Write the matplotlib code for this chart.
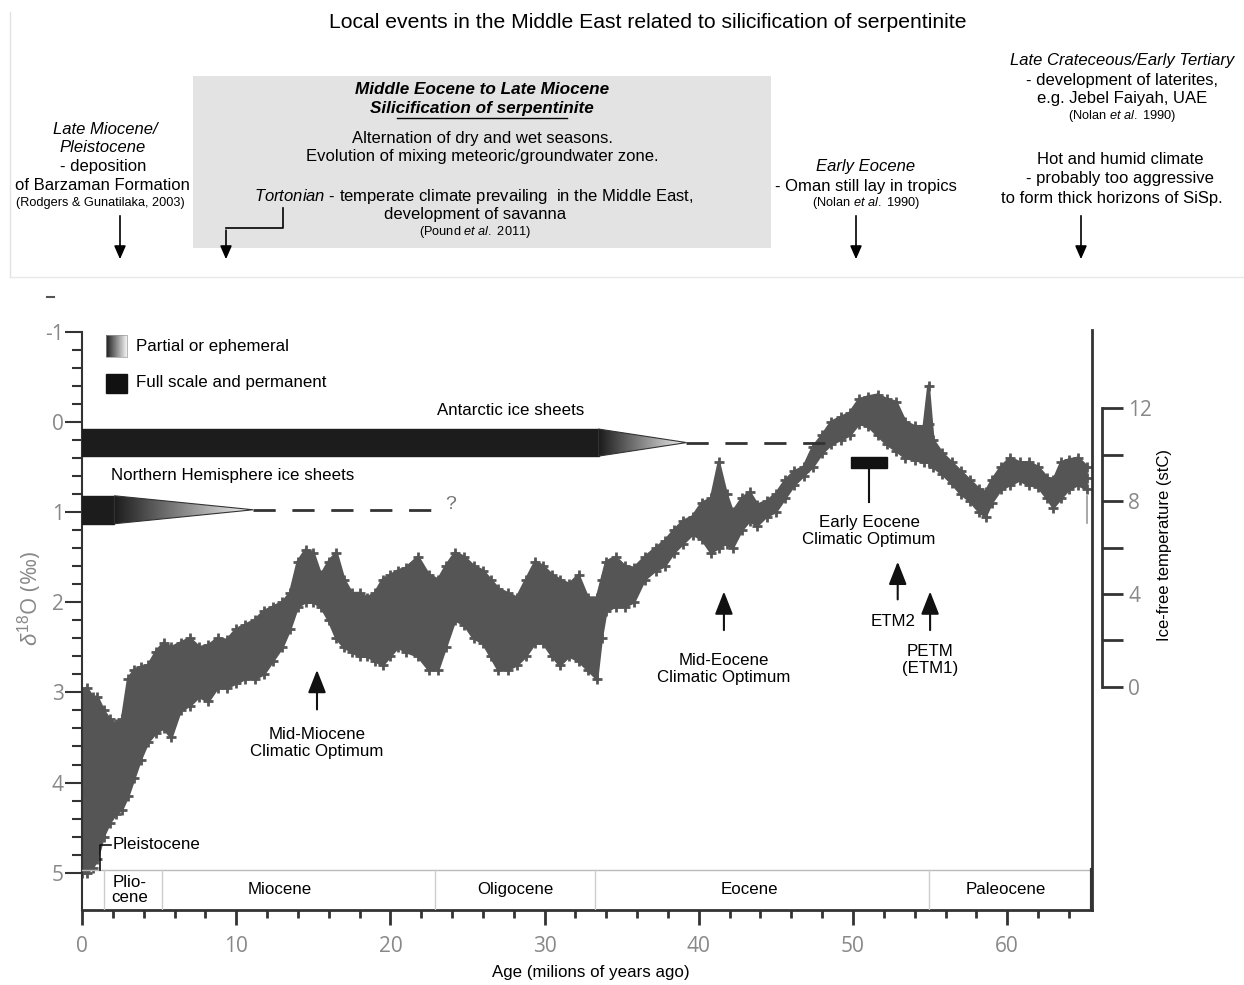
import matplotlib.pyplot as plt
import numpy as np
from matplotlib.patches import Polygon, Rectangle
from matplotlib.colors import LinearSegmentedColormap

plt.rcParams['font.family'] = ['Liberation Sans', 'DejaVu Sans']
plt.rcParams['mathtext.fontset'] = 'custom'
plt.rcParams['mathtext.rm'] = 'Liberation Sans'
plt.rcParams['mathtext.it'] = 'Liberation Sans:italic'
plt.rcParams['mathtext.bf'] = 'Liberation Sans:bold'

# d18O cloud: age (Ma), upper and lower edge (permil)
age = [0.0, 0.3, 0.7, 1.0, 1.4, 1.8, 2.2, 2.6, 3.0, 3.4, 3.8, 4.3, 4.8, 5.3, 5.8,
       6.4, 7.0, 7.6, 8.2, 8.8, 9.4, 10.0, 10.6, 11.2, 11.8, 12.4, 13.0, 13.5,
       14.0, 14.5, 15.0, 15.5, 16.0, 16.5, 17.0, 17.5, 18.0, 18.5, 19.0, 19.5,
       20.0, 20.5, 21.0, 21.8, 22.5, 23.1, 23.6, 24.2, 24.8, 25.4, 26.0, 26.5,
       27.0, 27.6, 28.2, 28.8, 29.4, 29.9, 30.5, 31.0, 31.6, 32.2, 32.8, 33.4,
       33.7, 34.0, 34.6, 35.2, 35.8, 36.5, 37.2, 37.8, 38.4, 39.0, 39.6, 40.2,
       40.8, 41.3, 41.8, 42.2, 42.8, 43.3, 43.8, 44.4, 45.0, 45.6, 46.2, 46.8,
       47.4, 48.0, 48.6, 49.2, 49.8, 50.4, 51.0, 51.6, 52.2, 52.8, 53.4, 54.0,
       54.6, 54.9, 55.2, 55.8, 56.4, 57.0, 57.6, 58.2, 58.6, 59.0, 59.6, 60.2,
       60.8, 61.4, 62.0, 62.6, 63.0, 63.5, 64.0, 64.6, 65.2]
d18o_top = [3.0, 2.95, 3.05, 3.05, 3.2, 3.3, 3.35, 3.3, 2.85, 2.75, 2.72, 2.7, 2.55,
            2.45, 2.5, 2.45, 2.4, 2.5, 2.48, 2.4, 2.42, 2.3, 2.25, 2.2, 2.1, 2.05,
            2.0, 1.9, 1.55, 1.42, 1.45, 1.7, 1.55, 1.45, 1.75, 1.9, 1.9, 1.95, 1.9,
            1.75, 1.7, 1.65, 1.62, 1.5, 1.7, 1.75, 1.6, 1.45, 1.5, 1.6, 1.65, 1.75,
            1.85, 1.9, 1.95, 1.75, 1.55, 1.6, 1.7, 1.75, 1.8, 1.7, 1.95, 1.95, 1.75,
            1.55, 1.5, 1.6, 1.62, 1.5, 1.4, 1.32, 1.2, 1.1, 1.05, 0.9, 0.85, 0.45,
            0.8, 1.0, 0.85, 0.78, 0.92, 0.88, 0.8, 0.65, 0.55, 0.5, 0.28, 0.15, 0.0,
            -0.05, -0.1, -0.25, -0.28, -0.3, -0.25, -0.22, 0.0, 0.05, 0.05, -0.4,
            0.2, 0.35, 0.45, 0.55, 0.65, 0.75, 0.78, 0.65, 0.5, 0.4, 0.45, 0.45,
            0.5, 0.62, 0.65, 0.45, 0.42, 0.4, 0.5]
d18o_bot = [5.0, 5.0, 4.95, 4.85, 4.6, 4.45, 4.35, 4.3, 4.15, 3.95, 3.75, 3.55, 3.45,
            3.4, 3.5, 3.2, 3.15, 3.05, 3.1, 2.95, 2.95, 2.9, 2.85, 2.85, 2.8, 2.65,
            2.5, 2.3, 2.05, 2.0, 2.0, 2.05, 2.2, 2.4, 2.5, 2.55, 2.6, 2.6, 2.65,
            2.7, 2.6, 2.5, 2.55, 2.6, 2.75, 2.75, 2.5, 2.2, 2.25, 2.4, 2.45, 2.6,
            2.75, 2.75, 2.7, 2.6, 2.45, 2.45, 2.6, 2.7, 2.6, 2.65, 2.75, 2.85, 2.4,
            2.1, 2.05, 2.05, 2.0, 1.75, 1.65, 1.6, 1.45, 1.35, 1.25, 1.3, 1.45, 1.4,
            1.35, 1.4, 1.2, 1.1, 1.15, 1.05, 1.0, 0.85, 0.7, 0.6, 0.5, 0.35, 0.25,
            0.2, 0.15, 0.02, 0.05, 0.15, 0.25, 0.32, 0.4, 0.42, 0.45, 0.45, 0.5,
            0.58, 0.68, 0.8, 0.88, 1.0, 1.05, 0.9, 0.75, 0.7, 0.65, 0.7, 0.72, 0.85,
            0.95, 0.85, 0.75, 0.7, 0.75]

# geological epochs (boundaries in Ma) and where their names sit
epoch_edges = [0, 1.4, 5.2, 22.9, 33.3, 54.9, 65.5]
epoch_names = ['Plio-\ncene', 'Miocene', 'Oligocene', 'Eocene', 'Paleocene']
epoch_label_age = [3.1, 12.8, 28.1, 43.3, 59.9]

age_ticks = [0, 10, 20, 30, 40, 50, 60]
d18o_ticks = [-1, 0, 1, 2, 3, 4, 5]
temp_ticks = [0, 4, 8, 12]

W, H = 1244, 985
fig = plt.figure(figsize=(12.44, 9.85), dpi=100)
FS = 12.2   # chart labels
TS = 12     # top panel text
CS = 9.2    # citations


def rect(x0, y0, x1, y1):
    return [x0 / W, 1 - y1 / H, (x1 - x0) / W, (y1 - y0) / H]


grad_cmap = LinearSegmentedColormap.from_list('ice', ['#1c1c1c', '#f4f4f4'])
grad = np.linspace(0, 1, 256).reshape(1, -1)


def gradient_triangle(a, x0, x1, ymid, half, z=3):
    poly = Polygon([(x0, ymid - half), (x1, ymid), (x0, ymid + half)],
                   closed=True, facecolor='none', edgecolor='#333', lw=0.8, zorder=z + 1)
    a.add_patch(poly)
    im = a.imshow(grad, extent=(x0, x1, ymid + half, ymid - half), cmap=grad_cmap,
                  aspect='auto', zorder=z, interpolation='bilinear')
    im.set_clip_path(poly)


# ---------------- main chart ----------------
ax = fig.add_axes(rect(82, 300, 1092, 910))
ax.patch.set_visible(False)

mid = [(t + b) / 2 for t, b in zip(d18o_top, d18o_bot)]
ax.fill_between(age, d18o_top, d18o_bot, color='#555555', lw=0, zorder=2)
ax.plot(age, d18o_top, color='#555555', lw=2, zorder=2)
ax.plot(age, d18o_bot, color='#555555', lw=2, zorder=2)
for series in (d18o_top, d18o_bot, mid):
    ax.plot(age, series, '+', color='#555555', ms=7, mew=2, zorder=2)

# Antarctic ice sheets
ax.add_patch(Rectangle((0, 0.08), 33.5, 0.30, color='#1c1c1c', zorder=3))
gradient_triangle(ax, 33.5, 39.2, 0.23, 0.15)
ax.plot([39.2, 48.4], [0.23, 0.23], color='#333', lw=2, dashes=(8, 6), zorder=3)
ax.text(27.8, -0.13, 'Antarctic ice sheets', ha='center', va='center', fontsize=FS)

# Northern Hemisphere ice sheets
ax.add_patch(Rectangle((0, 0.82), 2.1, 0.31, color='#1c1c1c', zorder=3))
gradient_triangle(ax, 2.1, 11.1, 0.975, 0.155)
ax.plot([11.1, 22.9], [0.975, 0.975], color='#333', lw=2, dashes=(8, 6), zorder=3)
ax.text(23.9, 0.92, '?', ha='center', va='center', fontsize=14, color='#777')
ax.text(1.85, 0.6, 'Northern Hemisphere ice sheets', ha='left', va='center', fontsize=FS)

# Early Eocene Climatic Optimum
ax.add_patch(Rectangle((49.87, 0.39), 2.33, 0.12, color='#111', zorder=3))
ax.plot([51.04, 51.04], [0.51, 0.89], color='#111', lw=1.5, zorder=3)
ax.text(51.04, 1.21, 'Early Eocene\nClimatic Optimum', ha='center', va='center',
        fontsize=FS, linespacing=1.2)

# event arrows
arrow_kw = dict(arrowstyle='-|>,head_length=1.4,head_width=0.55', color='#111', lw=1.5)
for x, y0, y1, lab, ly in [(15.24, 3.22, 2.72, 'Mid-Miocene\nClimatic Optimum', 3.56),
                           (41.63, 2.34, 1.85, 'Mid-Eocene\nClimatic Optimum', 2.74),
                           (52.9, 2.0, 1.52, 'ETM2', None),
                           (55.0, 2.34, 1.85, 'PETM\n(ETM1)', 2.64)]:
    ax.annotate('', xy=(x, y1), xytext=(x, y0), arrowprops=arrow_kw)
    if ly is not None:
        ax.text(x, ly, lab, ha='center', va='center', fontsize=FS, linespacing=1.2)
ax.text(52.6, 2.21, 'ETM2', ha='center', va='center', fontsize=FS)

# epoch bar
bar_top = 4.97
ax.plot([0, 65.5], [bar_top, bar_top], color='#bbb', lw=1, zorder=4)
for e in epoch_edges[1:-1]:
    ax.plot([e, e], [bar_top, 5.413], color='#ccc', lw=1, zorder=4)
ax.plot([65.5, 65.5], [bar_top, 5.413], color='#333', lw=3, zorder=4)
for xc, name in zip(epoch_label_age, epoch_names):
    ax.text(xc, 5.19, name, ha='center', va='center', fontsize=FS, linespacing=1.05)
ax.plot([1.9, 1.17, 1.17], [4.69, 4.69, bar_top], color='#111', lw=1.2, zorder=4)
ax.text(2.0, 4.69, 'Pleistocene', ha='left', va='center', fontsize=FS)
ax.plot([65.2, 65.2], [0.82, 1.12], color='#999', lw=1.2, zorder=4)

# axes styling
ax.set_xlim(0, 65.5)
ax.set_ylim(5.413, -1.351)
ax.spines['top'].set_visible(False)
for s in ['left', 'bottom', 'right']:
    ax.spines[s].set_color('#333')
ax.spines['left'].set_linewidth(1.5)
ax.spines['left'].set_bounds(-1, 5.413)
ax.spines['bottom'].set_linewidth(2)
ax.spines['right'].set_linewidth(2)
ax.spines['right'].set_bounds(-1.02, 5.413)

ax.set_xticks(age_ticks, labels=[str(t) for t in age_ticks], fontfamily='Open Sans')
ax.set_xticks(np.arange(0, 65, 2), minor=True)
ax.set_yticks(d18o_ticks, labels=['-1', '0', '1', '2', '3', '4', '5'], fontfamily='Open Sans')
ax.set_yticks(np.arange(-1, 5.01, 0.2), minor=True)
ax.tick_params(axis='x', which='major', direction='out', length=11, width=2, color='#333',
               labelsize=15, labelcolor='#888', pad=8)
ax.tick_params(axis='x', which='minor', direction='out', length=6, width=2, color='#333')
ax.tick_params(axis='y', which='major', direction='out', length=12, width=1.5, color='#333',
               labelsize=15, labelcolor='#888', pad=1)
ax.tick_params(axis='y', which='minor', direction='out', length=7, width=1.5, color='#333')
ax.tick_params(right=False, which='both')

# temperature axis
ax2 = fig.add_axes(rect(1000, 408.3, 1101.7, 686.7))
ax2.patch.set_visible(False)
ax2.set_ylim(0, 12)
for s in ['left', 'top', 'bottom']:
    ax2.spines[s].set_visible(False)
ax2.spines['right'].set_color('#333')
ax2.spines['right'].set_linewidth(2)
ax2.set_xticks([])
ax2.yaxis.tick_right()
ax2.set_yticks(temp_ticks, labels=[str(t) for t in temp_ticks], fontfamily='Open Sans')
ax2.set_yticks([2, 6, 10], minor=True)
ax2.tick_params(axis='y', which='both', direction='out', length=15, width=2, color='#333',
                labelsize=15, labelcolor='#888', pad=4)

# ---------------- overlay (text panel, labels) ----------------
ov = fig.add_axes([0, 0, 1, 1])
ov.set_xlim(0, W)
ov.set_ylim(H, 0)
ov.axis('off')
ov.patch.set_visible(False)

ov.plot([10, 10], [12, 277], color='#e2e2e2', lw=1)
ov.plot([10, W], [277, 277], color='#e8e8e8', lw=1)
ov.plot([47, 54], [297, 297], color='#555', lw=1.5)

ov.text(648, 22, 'Local events in the Middle East related to silicification of serpentinite',
        ha='center', va='center', fontsize=15.2)

ov.add_patch(Rectangle((193, 76), 578, 172, color='#e3e3e3', lw=0, zorder=0))
ov.text(482, 89, 'Middle Eocene to Late Miocene', ha='center', va='center',
        fontsize=12.3, fontweight='bold', style='italic')
ov.text(482, 108, 'Silicification of serpentinite', ha='center', va='center',
        fontsize=12.3, fontweight='bold', style='italic')
ov.plot([397, 567], [117.5, 117.5], color='k', lw=1)
ov.text(482, 138, 'Alternation of dry and wet seasons.', ha='center', va='center', fontsize=TS)
ov.text(482, 157, 'Evolution of mixing meteoric/groundwater zone.', ha='center', va='center',
        fontsize=TS)
ov.text(474, 197, r'$\it{Tortonian}$ - temperate climate prevailing  in the Middle East,',
        ha='center', va='center', fontsize=TS)
ov.text(475, 215, 'development of savanna', ha='center', va='center', fontsize=TS)
ov.text(475, 232, r'(Pound $\it{et\ al.}$ 2011)', ha='center', va='center', fontsize=CS)

ov.text(105, 129, 'Late Miocene/', ha='center', va='center', fontsize=TS, style='italic')
ov.text(103, 148, 'Pleistocene', ha='center', va='center', fontsize=TS, style='italic')
ov.text(103, 167, '- deposition', ha='center', va='center', fontsize=TS)
ov.text(102, 186, 'of Barzaman Formation', ha='center', va='center', fontsize=TS)
ov.text(100, 203, '(Rodgers & Gunatilaka, 2003)', ha='center', va='center', fontsize=CS)

ov.text(866, 167, 'Early Eocene', ha='center', va='center', fontsize=TS, style='italic')
ov.text(866, 186, '- Oman still lay in tropics', ha='center', va='center', fontsize=TS)
ov.text(866, 203, r'(Nolan $\it{et\ al.}$ 1990)', ha='center', va='center', fontsize=CS)

ov.text(1122, 61, 'Late Crateceous/Early Tertiary', ha='center', va='center', fontsize=TS,
        style='italic')
ov.text(1122, 80, '- development of laterites,', ha='center', va='center', fontsize=TS)
ov.text(1122, 99, 'e.g. Jebel Faiyah, UAE', ha='center', va='center', fontsize=TS)
ov.text(1122, 116, r'(Nolan $\it{et\ al.}$ 1990)', ha='center', va='center', fontsize=CS)
ov.text(1120, 160, 'Hot and humid climate', ha='center', va='center', fontsize=TS)
ov.text(1120, 179, '- probably too aggressive', ha='center', va='center', fontsize=TS)
ov.text(1112, 198, 'to form thick horizons of SiSp.', ha='center', va='center', fontsize=TS)

down_kw = dict(arrowstyle='-|>,head_length=0.8,head_width=0.35', color='k', lw=1.2)
for x in [120, 856, 1081]:
    ov.annotate('', xy=(x, 262), xytext=(x, 213), arrowprops=down_kw)
ov.plot([283, 283, 226], [208, 228, 228], color='k', lw=1.2)
ov.annotate('', xy=(226, 262), xytext=(226, 227.4), arrowprops=down_kw)

# legend
lg = Polygon([(106, 335), (127, 335), (127, 357), (106, 357)], closed=True,
             facecolor='none', edgecolor='#999', lw=0.5)
ov.add_patch(lg)
im = ov.imshow(grad, extent=(106, 127, 357, 335), cmap=grad_cmap, aspect='auto')
im.set_clip_path(lg)
ov.add_patch(Rectangle((106, 374), 21, 19, color='#111'))
ov.text(136, 346, 'Partial or ephemeral', ha='left', va='center', fontsize=FS)
ov.text(136, 383, 'Full scale and permanent', ha='left', va='center', fontsize=FS)

ov.text(30, 598, r'$\delta^{18}$O (‰)', ha='center', va='center', rotation=90,
        fontsize=16, color='#888', fontfamily='Open Sans')
ov.text(1165, 545, 'Ice-free temperature (stC)', ha='center', va='center', rotation=90,
        fontsize=12)
ov.text(591, 972, 'Age (milions of years ago)', ha='center', va='center', fontsize=FS)
ov.set_xlim(0, W)
ov.set_ylim(H, 0)

fig.savefig('out.png', dpi=100)
